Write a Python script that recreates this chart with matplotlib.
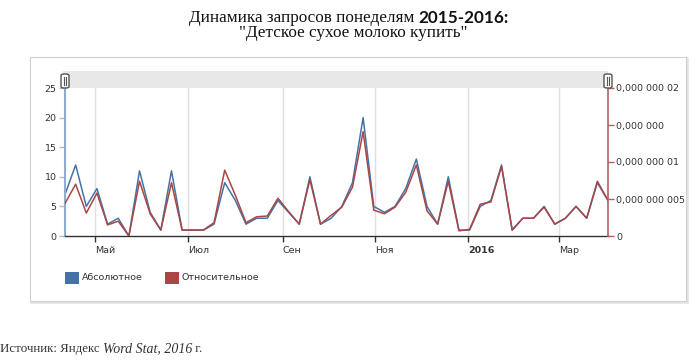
# -*- coding: utf-8 -*-
import pandas as pd
import matplotlib
matplotlib.use("Agg")
import matplotlib.pyplot as plt
from matplotlib.patches import Rectangle, FancyBboxPatch
from matplotlib.lines import Line2D

# weekly data, Yandex Wordstat
start_date = "2015-04-11"
absolute = [7, 12, 5, 8, 2, 3, 0, 11, 4, 1, 11, 1, 1, 1, 2, 9, 6, 2, 3, 3,
            6, 4, 2, 10, 2, 3, 5, 9, 20, 5, 4, 5, 8, 13, 5, 2, 10, 1, 1, 5,
            6, 12, 1, 3, 3, 5, 2, 3, 5, 3, 9, 6]
# relative values, in units of 1e-9
relative = [4.4, 7.0, 3.1, 5.8, 1.5, 2.0, 0.0, 7.4, 3.0, 0.8, 7.2, 0.8, 0.8, 0.8,
            1.8, 8.9, 5.5, 1.8, 2.6, 2.7, 5.1, 3.3, 1.6, 7.6, 1.6, 2.8, 3.9, 6.6,
            14.1, 3.5, 3.0, 3.9, 5.9, 9.6, 3.4, 1.6, 7.4, 0.7, 0.9, 4.3, 4.6, 9.4,
            0.8, 2.4, 2.4, 3.9, 1.6, 2.4, 4.0, 2.4, 7.4, 4.8]
month_labels = ["Май", "Июл", "Сен", "Ноя", "2016", "Мар"]
left_ticks = [0, 5, 10, 15, 20, 25]
right_ticks = [0, 5e-9, 1e-8, 1.5e-8, 2e-8]
right_labels = ["0", "0,000 000 005", "0,000 000 01", "0,000 000", "0,000 000 02"]
series_names = ["Абсолютное", "Относительное"]

dates = pd.date_range(start_date, periods=len(absolute), freq="7D")
rel = [v * 1e-9 for v in relative]

BLUE = "#4572a7"
RED = "#aa4643"
W, H = 700, 362

fig = plt.figure(figsize=(7, 3.62), dpi=100)


def fx(px):
    return px / W


def fy(py):
    return 1 - py / H


# chart frame (behind the axes)
fig.patches.append(Rectangle((fx(31), fy(302)), fx(656), 244 / H, transform=fig.transFigure,
                             facecolor="none", edgecolor="#e2e2e2", lw=1.8, zorder=-20))
fig.patches.append(Rectangle((fx(30), fy(301)), fx(656), 244 / H, transform=fig.transFigure,
                             facecolor="white", edgecolor="#d0d0d0", lw=0.8, zorder=-10))

ax = fig.add_axes([fx(65), fy(236), fx(608 - 65), (236 - 88) / H])
ax.patch.set_visible(False)
ax.plot(dates, absolute, color=BLUE, lw=1.1)
ax.set_xlim(dates[0], dates[-1])
ax.set_ylim(0, 25)
ax.set_yticks(left_ticks)
ax.tick_params(axis="y", labelsize=6.8, length=4, width=1, color="#a8c0dc",
               labelcolor="#333333", pad=2)

tick_dates = pd.date_range("2015-05-01", "2016-03-01", freq="2MS")
ax.set_xticks(tick_dates, labels=month_labels)
ax.tick_params(axis="x", labelsize=6.8, length=4, width=1, color="#333333",
               labelcolor="#333333", pad=3)
for lbl in ax.get_xticklabels():
    lbl.set_ha("left")
    if lbl.get_text() == "2016":
        lbl.set_fontweight("bold")
ax.grid(axis="x", color="#e0e0e0", lw=1)
ax.set_axisbelow(True)
for s in ["top", "right"]:
    ax.spines[s].set_visible(False)
ax.spines["left"].set_color("#8fadd2")
ax.spines["left"].set_linewidth(1.5)
ax.spines["bottom"].set_color("#333333")
ax.spines["bottom"].set_linewidth(1)

ax2 = ax.twinx()
ax2.plot(dates, rel, color=RED, lw=1.1)
ax2.set_ylim(0, 2e-8)
ax2.set_yticks(right_ticks, labels=right_labels)
ax2.tick_params(axis="y", labelsize=6.8, length=4, width=1, color="#b06060",
                labelcolor="#333333", pad=2)
for s in ["top", "left", "bottom"]:
    ax2.spines[s].set_visible(False)
ax2.spines["right"].set_color("#b06060")
ax2.spines["right"].set_linewidth(1.2)

# navigator band with handles
fig.patches.append(Rectangle((fx(63), fy(88)), fx(608 - 63), 17 / H, transform=fig.transFigure,
                             facecolor="#e8e8e8", edgecolor="none"))
for hx in [65, 608]:
    fig.patches.append(FancyBboxPatch((fx(hx - 4), fy(88)), fx(8), 14 / H,
                                      boxstyle="round,pad=0,rounding_size=0.004",
                                      transform=fig.transFigure, facecolor="white",
                                      edgecolor="#555555", lw=1))
    for dx in [-1.2, 1.2]:
        fig.lines.append(Line2D([fx(hx + dx)] * 2, [fy(85), fy(77)], transform=fig.transFigure,
                                color="#555555", lw=0.8))

# legend
for x0, col, name in [(65, BLUE, series_names[0]), (165, RED, series_names[1])]:
    fig.patches.append(Rectangle((fx(x0), fy(284)), fx(14), 12 / H, transform=fig.transFigure,
                                 facecolor=col, edgecolor="none"))
    fig.text(fx(x0 + 17), fy(278), name, fontsize=6.8, color="#333333", va="center")

renderer = fig.canvas.get_renderer()


def pieces(parts, y, x=None, center=None):
    texts = []
    for s, kw in parts:
        texts.append(fig.text(0, y, s, va="center", **kw))
    widths = [t.get_window_extent(renderer).width for t in texts]
    cur = (center - sum(widths) / 2) if center is not None else x
    for t, w in zip(texts, widths):
        t.set_x(fx(cur))
        cur += w


serif = dict(family="Liberation Serif", fontsize=12.3, color="#111111")
sans = dict(family="Lato", fontsize=12.3, color="#111111", fontweight="bold")
pieces([("Динамика запросов понеделям ", serif), ("2015-2016:", sans)], fy(18), center=349)
pieces([('"Детское сухое молоко купить"', serif)], fy(33), center=353)

src = dict(family="Liberation Serif", fontsize=9.3, color="#333333")
src_it = dict(family="Liberation Serif", fontsize=10, color="#333333", style="italic")
pieces([("Источник: Яндекс ", src), ("Word Stat, 2016", src_it), (" г.", src)], fy(349), x=0)

fig.savefig("out.png", dpi=100)
